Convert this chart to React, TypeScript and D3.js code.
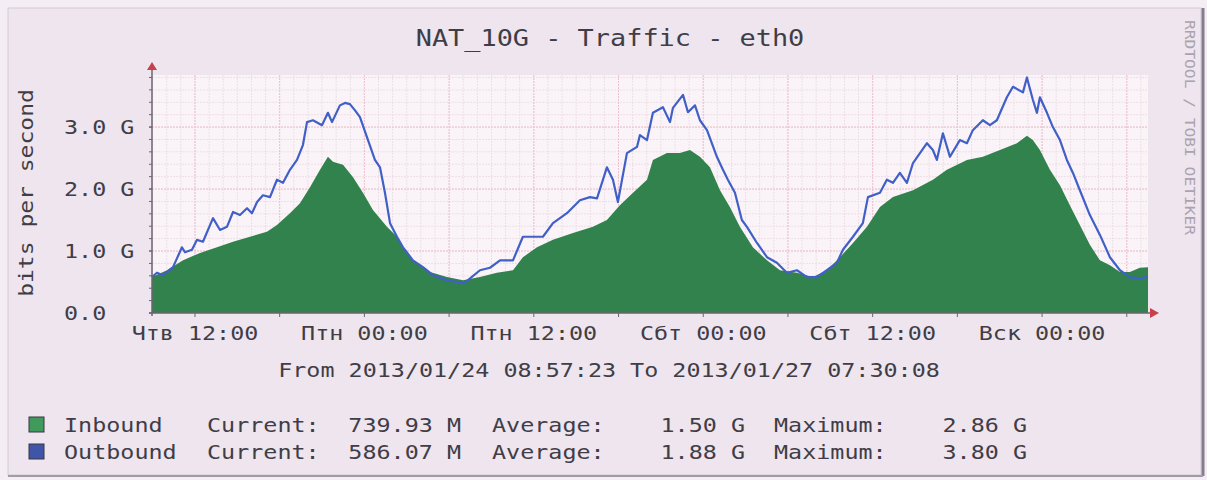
import React from "react";
import * as d3 from "d3";

// time span shown: 2013/01/24 08:57:23 .. 2013/01/27 07:30:08 (hours from start)
const SPAN_HOURS = 70.546;
const FIRST_FULL_HOUR = 0.0436; // 09:00
const FIRST_NOON = 3.0436; // Thu 12:00

const xLabels = ["Чтв 12:00", "Птн 00:00", "Птн 12:00", "Сбт 00:00", "Сбт 12:00", "Вск 00:00"];
const yTicks = [0, 1, 2, 3];
const yLabels = ["0.0", "1.0 G", "2.0 G", "3.0 G"];

// outbound, hours from start / Gbit/s
const outHours = [
    0, 0.35, 0.78, 1.49, 2.12, 2.34, 2.83, 3.19, 3.61, 4.32, 4.82, 5.31, 5.74, 6.23, 6.73, 7.08, 7.44, 7.86,
    8.36, 8.85, 9.28, 9.77, 10.27, 10.69, 10.98, 11.4, 12.04, 12.46, 12.75, 13.31, 13.67, 14.02, 14.38, 14.73,
    15.3, 15.79, 16.15, 16.5, 16.86, 17.35, 17.78, 18.48, 19.19, 19.9, 20.89, 22.03, 22.38, 23.23, 23.94,
    24.65, 25.57, 26.27, 26.98, 27.69, 28.4, 29.39, 30.31, 31.02, 31.52, 32.22, 32.65, 33.0, 33.64, 34.35,
    34.56, 35.06, 35.48, 36.19, 36.69, 36.9, 37.61, 37.96, 38.46, 38.81, 39.31, 39.52, 40.01, 40.44, 40.79,
    41.29, 41.78, 42.14, 42.85, 43.56, 44.26, 44.97, 45.68, 46.39, 47.1, 47.8, 48.51, 48.94, 49.65, 50.35,
    50.71, 51.56, 52.05, 52.48, 52.97, 53.47, 53.9, 54.89, 55.31, 55.59, 56.02, 56.52, 57.22, 57.72, 58.14,
    58.85, 59.35, 59.84, 60.55, 60.98, 61.69, 61.97, 62.39, 62.68, 62.89, 63.39, 63.81, 64.31, 64.8, 65.23,
    65.72, 66.43, 67.14, 67.85, 68.56, 69.26, 69.97, 70.546,
];
const outValues = [
    0.58, 0.65, 0.61, 0.74, 1.06, 0.98, 1.02, 1.18, 1.15, 1.53, 1.34, 1.39, 1.63, 1.58, 1.69, 1.61, 1.79, 1.9,
    1.87, 2.15, 2.1, 2.31, 2.47, 2.71, 3.08, 3.11, 3.03, 3.23, 3.08, 3.35, 3.39, 3.37, 3.27, 3.16,
    2.79, 2.47, 2.35, 1.94, 1.45, 1.23, 1.06, 0.85, 0.74, 0.61, 0.53, 0.48, 0.53, 0.69, 0.73,
    0.85, 0.85, 1.23, 1.23, 1.23, 1.45, 1.61, 1.82, 1.87, 1.85, 2.35, 2.15, 1.79, 2.58, 2.68,
    2.87, 2.79, 3.23, 3.32, 3.08, 3.31, 3.52, 3.24, 3.35, 3.11, 2.95, 2.82, 2.52, 2.31, 2.15,
    1.94, 1.5, 1.39, 1.13, 0.9, 0.81, 0.65, 0.69, 0.58, 0.58, 0.69, 0.81, 1.02, 1.23, 1.45,
    1.87, 1.94, 2.15, 2.1, 2.26, 2.1, 2.42, 2.74, 2.63, 2.47, 2.9, 2.52, 2.79, 2.74, 2.95,
    3.11, 3.03, 3.11, 3.48, 3.65, 3.56, 3.8, 3.44, 3.23, 3.48, 3.23, 3.0, 2.79, 2.47, 2.26,
    1.98, 1.58, 1.26, 0.9, 0.69, 0.58, 0.56, 0.586,
];

// inbound, hours from start / Gbit/s
const inHours = [
    0, 1.06, 2.2, 3.4, 4.6, 5.74, 6.94, 8.14, 8.85, 9.77, 10.48, 11.19, 11.9, 12.46, 12.82, 13.1, 13.53,
    14.24, 14.94, 15.65, 16.64, 17.35, 17.92, 18.48, 19.69, 20.89, 22.03, 23.23, 24.43, 25.57, 26.27, 27.27,
    28.4, 29.82, 31.23, 32.22, 33.14, 34.07, 35.06, 35.48, 36.47, 37.39, 38.1, 38.81, 39.52, 40.23, 40.93,
    41.64, 42.56, 43.56, 44.48, 45.68, 46.81, 47.8, 48.73, 49.65, 50.64, 51.56, 52.48, 53.9, 55.31, 56.3,
    57.72, 58.85, 60.06, 61.26, 61.97, 62.39, 62.89, 63.6, 64.31, 65.01, 65.72, 66.43, 67.14, 67.85, 68.56,
    69.26, 69.97, 70.546,
];
const inValues = [
    0.58, 0.69, 0.85, 0.97, 1.06, 1.15, 1.23, 1.31, 1.42, 1.61, 1.77, 2.03, 2.31, 2.52, 2.44, 2.42, 2.39,
    2.19, 1.94, 1.66, 1.39, 1.23, 1.02, 0.85, 0.66, 0.58, 0.53, 0.58, 0.65, 0.69, 0.9, 1.06,
    1.18, 1.29, 1.39, 1.5, 1.74, 1.94, 2.15, 2.47, 2.58, 2.58, 2.63, 2.52, 2.35, 1.98, 1.71,
    1.39, 1.06, 0.85, 0.69, 0.65, 0.58, 0.69, 0.9, 1.13, 1.39, 1.71, 1.87, 1.98, 2.15, 2.31,
    2.47, 2.52, 2.63, 2.74, 2.86, 2.79, 2.63, 2.31, 2.06, 1.74, 1.42, 1.1, 0.85, 0.77, 0.66,
    0.66, 0.73, 0.74,
];

const legendRows = [
    { name: "Inbound", current: "739.93 M", average: "1.50 G", maximum: "2.86 G", color: "#3f9a5c" },
    { name: "Outbound", current: "586.07 M", average: "1.88 G", maximum: "3.80 G", color: "#3f55a8" },
];

const MONO = "'DejaVu Sans Mono', monospace";
const INK = "#413d46";
const SX = 1.17;

const T = ({ x, y, size = 20, anchor = "start", children, fill = INK }: any) => (
    <text
        transform={`translate(${x},${y}) scale(${SX},1)`}
        textAnchor={anchor}
        fontFamily={MONO}
        fontSize={size}
        fill={fill}
    >
        {children}
    </text>
);

export default function App() {
    const left = 152, right = 1148, top = 75, bottom = 313;
    const x = d3.scaleLinear().domain([0, SPAN_HOURS]).range([left, right]);
    const y = d3.scaleLinear().domain([0, 3.84]).range([bottom, top]);

    const inData = inHours.map((h, i) => [h, inValues[i]] as [number, number]);
    const outData = outHours.map((h, i) => [h, outValues[i]] as [number, number]);

    const area = d3.area<[number, number]>().x((d) => x(d[0])).y0(y(0)).y1((d) => y(d[1]));
    const line = d3.line<[number, number]>().x((d) => x(d[0])).y((d) => y(d[1]));

    const minorX = d3.range(FIRST_FULL_HOUR, SPAN_HOURS, 1);
    const majorX = d3.range(FIRST_NOON, SPAN_HOURS, 6);
    const labelX = d3.range(FIRST_NOON, SPAN_HOURS, 12);
    const minorY = d3.range(0.2, 3.84, 0.2);

    return (
        <svg width={1207} height={480} style={{ position: "absolute", left: 0, top: 0 }}>
            <rect width={1207} height={480} fill="#f4eef4" />
            <rect x={8} y={8} width={1193} height={467} fill="#eee5ee" stroke="#d3cad3" />
            <line x1={1203} x2={1203} y1={8} y2={476} stroke="#857e8e" strokeWidth={3} />
            <line x1={8} x2={1203} y1={476} y2={476} stroke="#a29ba7" strokeWidth={2} />

            <rect x={left} y={top} width={right - left} height={bottom - top} fill="#faf4f8" />

            <g strokeWidth={1}>
                {minorX.map((h) => (
                    <line key={"mx" + h} x1={x(h)} x2={x(h)} y1={top} y2={bottom} stroke="#ecdfe6" strokeDasharray="2,1" />
                ))}
                {minorY.map((v) => (
                    <line key={"my" + v} x1={left} x2={right} y1={y(v)} y2={y(v)} stroke="#ecdfe6" strokeDasharray="2,1" />
                ))}
                {majorX.map((h) => (
                    <line key={"Mx" + h} x1={x(h)} x2={x(h)} y1={top} y2={bottom} stroke="#efc0cc" strokeDasharray="2,1" />
                ))}
                {yTicks.slice(1).map((v) => (
                    <line key={"My" + v} x1={left} x2={right} y1={y(v)} y2={y(v)} stroke="#efc0cc" strokeDasharray="2,1" />
                ))}
            </g>

            <path d={area(inData) || ""} fill="#31824c" />
            <path d={line(outData) || ""} fill="none" stroke="#4060c8" strokeWidth={2.2} strokeLinejoin="round" />

            {/* axes */}
            <g stroke="#6a6470">
                <line x1={left} x2={left} y1={bottom + 3} y2={68} strokeWidth={1.5} />
                <line x1={left - 3} x2={1152} y1={bottom} y2={bottom} strokeWidth={1.5} />
                {minorY.concat(yTicks).map((v) => (
                    <line key={"ty" + v} x1={left - 3} x2={left} y1={y(v)} y2={y(v)} />
                ))}
                {majorX.map((h) => (
                    <line key={"tx" + h} x1={x(h)} x2={x(h)} y1={bottom} y2={bottom + 4} />
                ))}
            </g>
            <path d={`M${left - 5},70 L${left + 5},70 L${left},62 Z`} fill="#c8404c" />
            <path d={`M1150,${bottom - 5} L1150,${bottom + 5} L1159,${bottom} Z`} fill="#c8404c" />

            <T x={610} y={46} size={23} anchor="middle">NAT_10G - Traffic - eth0</T>

            {yTicks.map((v, i) => (
                <T key={"yl" + v} x={64} y={y(v) + 7}>{yLabels[i]}</T>
            ))}
            {labelX.map((h, i) => (
                <T key={"xl" + h} x={x(h)} y={340} anchor="middle">{xLabels[i]}</T>
            ))}

            <text
                transform="translate(33,193) rotate(-90) scale(1.15,1)"
                textAnchor="middle"
                fontFamily={MONO}
                fontSize={20}
                fill={INK}
            >
                bits per second
            </text>
            <text
                transform="translate(1185,20) rotate(90) scale(1.16,1)"
                fontFamily={MONO}
                fontSize={14}
                fill="#aaa2ac"
            >
                RRDTOOL / TOBI OETIKER
            </text>

            <T x={609} y={377} anchor="middle">From 2013/01/24 08:57:23 To 2013/01/27 07:30:08</T>

            {legendRows.map((r, i) => {
                const by = 432 + i * 27;
                return (
                    <g key={r.name}>
                        <rect x={29} y={by - 15} width={15} height={15} fill={r.color} stroke="#3a3640" strokeWidth={1} />
                        <T x={64} y={by}>{r.name}</T>
                        <T x={207} y={by}>Current:</T>
                        <T x={461} y={by} anchor="end">{r.current}</T>
                        <T x={492} y={by}>Average:</T>
                        <T x={745} y={by} anchor="end">{r.average}</T>
                        <T x={774} y={by}>Maximum:</T>
                        <T x={1027} y={by} anchor="end">{r.maximum}</T>
                    </g>
                );
            })}
        </svg>
    );
}
